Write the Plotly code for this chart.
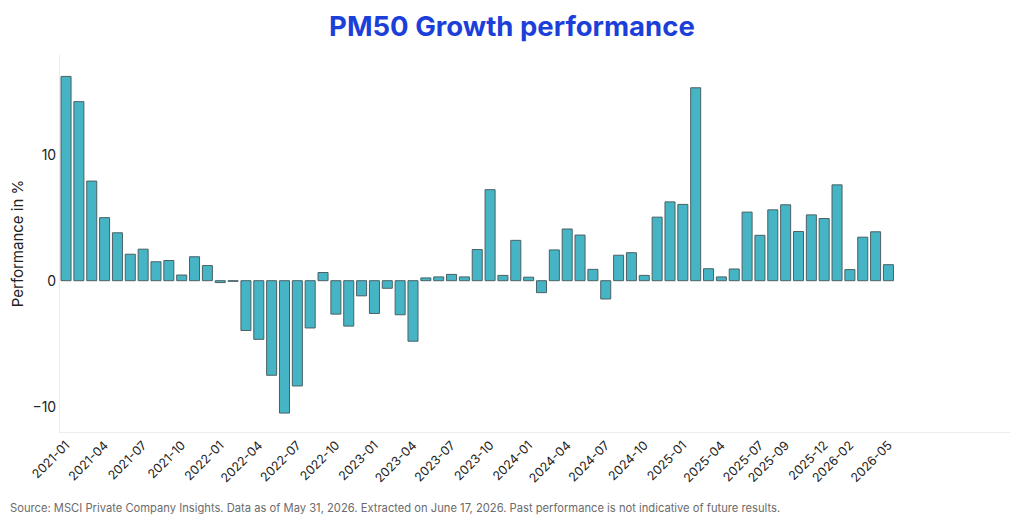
import pandas as pd
import plotly.graph_objects as go

    # Monthly PM50 Growth performance values
months = pd.date_range('2021-01-01', '2026-05-01', freq='MS').strftime('%Y-%m').tolist()

performance = [
    16.2, 14.2, 7.9, 5.0, 3.8, 2.1, 2.5, 1.5, 1.6, 0.45, 1.9, 1.2,
    -0.15, -0.05, -3.95, -4.65, -7.5, -10.5, -8.35, -3.75, 0.65, -2.65, -3.6, -1.2,
    -2.6, -0.6, -2.7, -4.8, 0.22, 0.3, 0.5, 0.3, 2.47, 7.22, 0.42, 3.2,
    0.28, -0.95, 2.44, 4.1, 3.62, 0.9, -1.45, 2.02, 2.22, 0.42, 5.04, 6.25,
    6.05, 15.3, 0.95, 0.3, 0.93, 5.44, 3.6, 5.62, 6.02, 3.9, 5.22, 4.93,
    7.6, 0.88, 3.45, 3.88, 1.27,
]

tick_labels = [
    '2021-01', '2021-04', '2021-07', '2021-10',
    '2022-01', '2022-04', '2022-07', '2022-10',
    '2023-01', '2023-04', '2023-07', '2023-10',
    '2024-01', '2024-04', '2024-07', '2024-10',
    '2025-01', '2025-04', '2025-07', '2025-09', '2025-12',
    '2026-02', '2026-05',
]

source_text = ('Source: MSCI Private Company Insights. Data as of May 31, 2026. '
               'Extracted on June 17, 2026. Past performance is not indicative of future results.')

    #Plotting the bar chart
fig = go.Figure(go.Bar(
    x=months, y=performance,
    marker=dict(color='#45b5c6', line=dict(color='#4b6064', width=1)),
    hovertemplate='%{x}: %{y:.2f}%<extra></extra>'))

    # page body has an 8px margin, so the figure is sized/placed to compensate
fig.update_layout(
    width=1016, height=515,
    font_family='Inter',
    plot_bgcolor='white', paper_bgcolor='white',
    margin=dict(l=52, r=14, t=47, b=91, autoexpand=False),
    bargap=0.22,
    showlegend=False,
    title={
        'text': '<b>PM50 Growth performance</b>',
        'x': 0.496, 'y': 0.965, 'xref': 'container', 'yref': 'container',
        'xanchor': 'center', 'yanchor': 'middle',
        'font': dict(size=27.5, color='#1c3fda'),
        'automargin': False,
    },
    xaxis=dict(
        type='category',
        range=[-0.47, 73.46],
        tickmode='array', tickvals=tick_labels, ticktext=tick_labels,
        tickangle=-45, tickfont=dict(size=12.5, color='#222'),
        showline=True, linecolor='#ececec', linewidth=1,
        showgrid=False, ticks='', automargin=False,
    ),
    yaxis=dict(
        range=[-12, 17.9],
        dtick=10, tickfont=dict(size=14, color='#222'),
        title=dict(text='Performance in %', font=dict(size=15, color='#222'), standoff=12),
        showline=True, linecolor='#ececec', linewidth=1,
        showgrid=False, zeroline=False, ticks='', automargin=False,
    ),
    annotations=[dict(
        text=source_text, xref='paper', yref='paper',
        x=-52/950, y=-(500-424)/377, xanchor='left', yanchor='middle',
        showarrow=False, font=dict(size=11.2, color='#6b6b6b'))],
)

fig.write_html("out.html")
